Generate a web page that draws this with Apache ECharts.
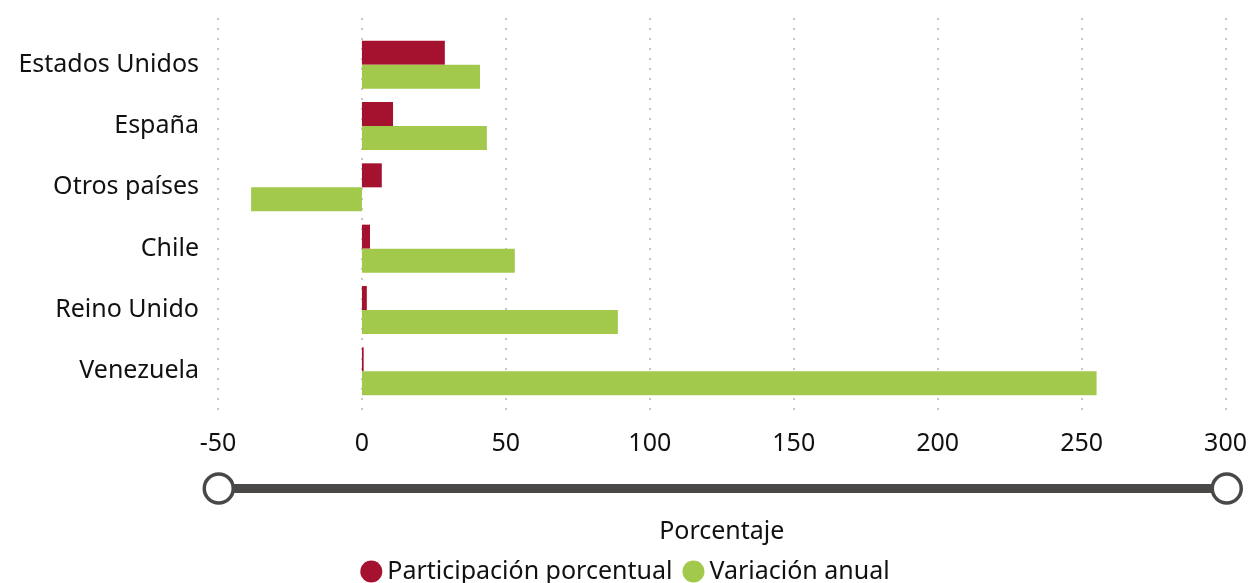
<!DOCTYPE html>
<html>
<head>
<meta charset="utf-8">
<script src="https://cdn.jsdelivr.net/npm/echarts@6/dist/echarts.min.js"></script>
<style>
  html, body { margin: 0; padding: 0; background: #fff; }
  #chart { width: 1250px; height: 583px; }
</style>
</head>
<body>
<div id="chart"></div>
<script>
const paises = ['Estados Unidos', 'España', 'Otros países', 'Chile', 'Reino Unido', 'Venezuela']
const participacion = [28.8, 10.8, 6.9, 2.8, 1.7, 0.6]
const variacion = [41.0, 43.4, -38.5, 53.1, 88.9, 255.2]
const xTicks = { min: -50, max: 300, interval: 50 }

const fontFamily = '"Noto Sans", sans-serif'
const textColor = '#111'

const chart = echarts.init(document.getElementById('chart'))

const option = {
  textStyle: { fontFamily: fontFamily },
  legend: {
    bottom: -6,
    left: 'center',
    icon: 'circle',
    itemWidth: 22,
    itemHeight: 22,
    itemGap: 10,
    textStyle: { fontSize: 25, color: textColor, fontFamily: fontFamily },
    data: ['Participación porcentual', 'Variación anual']
  },
  grid: [
    { left: 218, right: 24, top: 34, height: 368 },
    // only for the dotted split lines, which run a bit longer than the bars area
    { left: 218, right: 24, top: 18, height: 400 }
  ],
  xAxis: [
    {
      gridIndex: 0,
      type: 'value',
      min: xTicks.min,
      max: xTicks.max,
      interval: xTicks.interval,
      name: 'Porcentaje',
      nameLocation: 'middle',
      nameGap: 117,
      nameTextStyle: { fontSize: 25, color: textColor },
      axisLine: { show: false },
      axisTick: { show: false },
      splitLine: { show: false },
      axisLabel: { fontSize: 25, color: textColor, margin: 29 }
    },
    {
      gridIndex: 1,
      type: 'value',
      min: xTicks.min,
      max: xTicks.max,
      interval: xTicks.interval,
      axisLine: { show: false },
      axisTick: { show: false },
      axisLabel: { show: false },
      splitLine: { show: true, lineStyle: { color: '#c8c8c8', type: [2, 8], width: 2 } }
    }
  ],
  yAxis: [
    {
      gridIndex: 0,
      type: 'category',
      inverse: true,
      data: paises,
      axisLine: { show: false },
      axisTick: { show: false },
      axisLabel: { fontSize: 25, color: textColor, margin: 19, padding: [4, 0, 0, 0] }
    },
    {
      gridIndex: 1,
      type: 'value',
      show: false
    }
  ],
  dataZoom: [
    {
      type: 'slider',
      xAxisIndex: 0,
      filterMode: 'none',
      left: 215,
      right: 25,
      top: 484,
      height: 9,
      showDetail: false,
      showDataShadow: false,
      brushSelect: false,
      moveHandleSize: 0,
      borderColor: 'transparent',
      backgroundColor: '#4a4846',
      fillerColor: '#4a4846',
      handleIcon: 'circle',
      handleSize: 29,
      handleStyle: { color: '#fff', borderColor: '#4a4846', borderWidth: 3.5 },
      emphasis: { handleStyle: { borderColor: '#4a4846' } }
    }
  ],
  series: [
    {
      name: 'Participación porcentual',
      type: 'bar',
      xAxisIndex: 0,
      yAxisIndex: 0,
      barWidth: 24,
      barGap: '0%',
      itemStyle: { color: '#A51230' },
      data: participacion
    },
    {
      name: 'Variación anual',
      type: 'bar',
      xAxisIndex: 0,
      yAxisIndex: 0,
      barWidth: 24,
      barGap: '0%',
      itemStyle: { color: '#A2C84C' },
      data: variacion
    }
  ]
}

chart.setOption(option)
</script>
</body>
</html>
